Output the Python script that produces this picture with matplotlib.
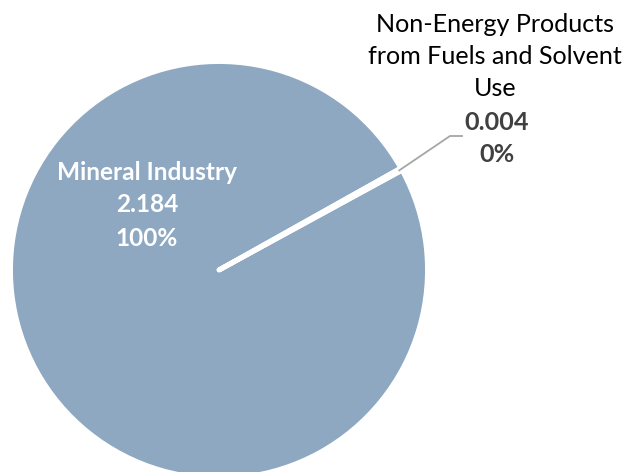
import matplotlib
matplotlib.use("Agg")
import matplotlib.pyplot as plt
import numpy as np

plt.rcParams['font.family'] = ['Lato', 'DejaVu Sans']

categories = ["Mineral Industry", "Non-Energy Products\nfrom Fuels and Solvent\nUse"]
values = [2.184, 0.004]
percent_labels = ["100%", "0%"]
colors = ["#8EA8C2", "#8EA8C2"]

W, H, DPI = 622, 472, 100
fig = plt.figure(figsize=(W / DPI, H / DPI), dpi=DPI)
ax = fig.add_axes([0, 0, 1, 1])

cx, cy, R = 219, 270, 206

wedges, _ = ax.pie(values, colors=colors, startangle=28.6, counterclock=False,
                   radius=1.012, center=(0, 0), frame=True,
                   wedgeprops=dict(edgecolor='white', linewidth=3.5, joinstyle='round', capstyle='round'))
ax.set_xlim(-cx / R, (W - cx) / R)
ax.set_ylim(-(H - cy) / R, cy / R)
ax.set_aspect('equal')
ax.axis('off')

def px(x, y):
    return (x - cx) / R, (cy - y) / R

# Mineral Industry label (inside)
for txt, y in [(categories[0], 172), (f"{values[0]:.3f}", 205), (percent_labels[0], 238)]:
    ax.text(*px(147, y), txt, ha='center', va='center',
            color='white', fontsize=17.6, fontweight='bold')

# leader line for small slice
w = wedges[1]
mid = np.deg2rad((w.theta1 + w.theta2) / 2)
p0 = (np.cos(mid), np.sin(mid))
p1 = px(450, 136)
p2 = px(462, 136)
ax.plot([p0[0], p1[0], p2[0]], [p0[1], p1[1], p2[1]], color='#A6A6A6', lw=1.3)

for txt, y in zip(categories[1].split("\n"), [24, 57, 89]):
    ax.text(*px(495, y), txt, ha='center', va='center', color='black', fontsize=18.1)
ax.text(*px(497, 122), f"{values[1]:.3f}", ha='center', va='center',
        color='#404040', fontsize=18.1, fontweight='bold')
ax.text(*px(497, 155), percent_labels[1], ha='center', va='center',
        color='#404040', fontsize=18.1, fontweight='bold')

fig.savefig("out.png", dpi=DPI)
